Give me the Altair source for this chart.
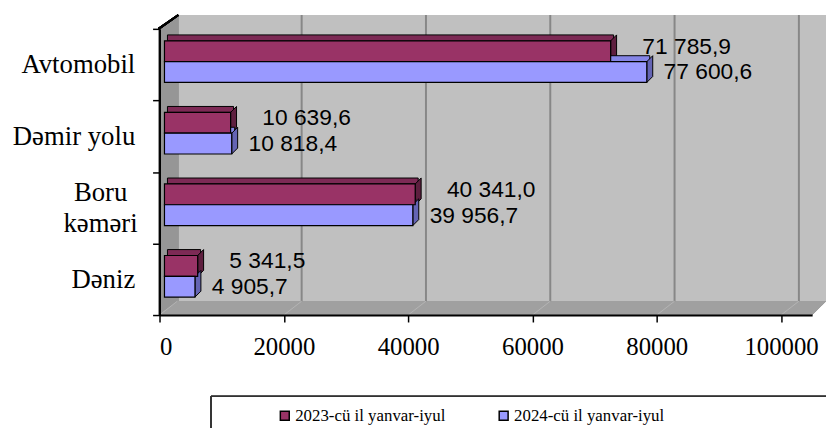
import altair as alt
import pandas as pd

# ---- data ----
categories = ["Avtomobil", "Dəmir yolu", "Boru kəməri", "Dəniz"]
series = ["2023-cü il yanvar-iyul", "2024-cü il yanvar-iyul"]
values_2023 = [71785.9, 10639.6, 40341.0, 5341.5]
values_2024 = [77600.6, 10818.4, 39956.7, 4905.7]
x_ticks = [0, 20000, 40000, 60000, 80000, 100000]

# ---- styles ----
front_colors = ["#993366", "#9999FF"]
top_colors = ["#7d2a55", "#8585E6"]
side_colors = ["#5e1f3f", "#6464B4"]
X_MAX = 105000
W, H = 659, 289
SERIF = "Liberation Serif"
SANS = "Liberation Sans"
TWO_LINE = "datum.value == 'Boru kəməri'"


def fmt(v):
    return f"{v:,.1f}".replace(",", " ").replace(".", ",")


rows = []
for s, vals in zip(series, [values_2023, values_2024]):
    for c, v in zip(categories, vals):
        rows.append({"category": c, "series": s, "value": v, "label": fmt(v)})
df = pd.DataFrame(rows)
grid_df = pd.DataFrame({"tick": x_ticks})

xscale = alt.Scale(domain=[0, X_MAX], nice=False, zero=True)
yscale = alt.Scale(domain=categories, paddingInner=0, paddingOuter=0)

x_axis = alt.Axis(
    values=x_ticks, format="d", title=None, grid=False,
    domainColor="black", domainWidth=2, tickColor="black", tickWidth=1.5,
    tickSize=7, labelFont=SERIF, labelFontSize=25, labelColor="black",
    labelPadding=13, zindex=1,
)
y_axis = alt.Axis(
    title=None, grid=False, tickBand="extent",
    domainColor="black", domainWidth=2, tickColor="black", tickWidth=1.5,
    tickSize=7, labelFont=SERIF, labelFontSize=27, labelColor="black",
    labelLineHeight=31, zindex=1,
    labelAlign={"condition": {"test": TWO_LINE, "value": "center"}, "value": "right"},
    labelPadding={"condition": {"test": TWO_LINE, "value": 53}, "value": 18},
    labelOffset={"condition": {"test": TWO_LINE, "value": -15}, "value": 0},
    labelExpr="datum.label == 'Boru kəməri' ? ['Boru', 'kəməri'] : datum.label",
)

X = alt.X("value:Q", scale=xscale, axis=x_axis)
Y = alt.Y("category:N", scale=yscale, sort=categories, axis=y_axis)
XT = alt.X("tick:Q", scale=xscale, axis=x_axis)

base = alt.Chart(df)

# ---- box walls (decoration) ----
back_wall = alt.Chart(grid_df).mark_rect(color="#C0C0C0").encode(
    x=alt.value(19), x2=alt.value(680), y=alt.value(-14), y2=alt.value(275)
)
LEFT_PATH = "M-0.066,-0.9076L0.066,-1L0.066,0.9076L-0.066,1Z"
left_wall = alt.Chart(grid_df).mark_point(
    shape=LEFT_PATH, size=303 * 303, filled=True, fill="#969696",
    strokeWidth=0, opacity=1
).encode(x=alt.value(9), y=alt.value(137.5))
FLOOR_PATH = "M-1,0.02077L0.9585,0.02077L1,-0.02077L-0.9407,-0.02077Z"
floor = alt.Chart(grid_df).mark_point(
    shape=FLOOR_PATH, size=674 * 674, filled=True, fill="#A0A0A0",
    strokeWidth=0, opacity=1
).encode(x=alt.value(336), y=alt.value(282))

gridlines = alt.Chart(grid_df).transform_filter("datum.tick > 0").mark_rule(
    color="#878787", strokeWidth=2, xOffset=18
).encode(x=XT, y=alt.value(-14), y2=alt.value(275))
floor_lines = alt.Chart(grid_df).mark_rule(
    color="#B4B4B4", strokeWidth=1, xOffset=18, x2Offset=0
).encode(x=XT, x2=alt.X2("tick:Q"), y=alt.value(275), y2=alt.value(289))
wall_edge = alt.Chart(grid_df).mark_rule(color="black", strokeWidth=2).encode(
    x=alt.value(-1), y=alt.value(0), x2=alt.value(19), y2=alt.value(-14)
)

# ---- 3D bars ----
SIDE_PATH = "M-0.222,-0.556L0.222,-1L0.222,0.556L-0.222,1Z"
front_off = [-13.5, 7.5]
text_dx = [37, 22]
text_dy = [-18, 8]
layers_depth, layers_front, layers_text = [], [], []
for i, s in enumerate(series):
    sub = base.transform_filter(alt.datum.series == s)
    top = sub.mark_bar(
        height=6, yOffset=front_off[i] - 13.5, xOffset=8, x2Offset=8,
        fill=top_colors[i], stroke="black", strokeWidth=1
    ).encode(x=X, y=Y)
    side = sub.mark_point(
        shape=SIDE_PATH, size=729, filled=True, fill=side_colors[i],
        stroke="black", strokeWidth=1, opacity=1,
        xOffset=8, yOffset=front_off[i] - 3
    ).encode(x=X, y=Y)
    front = sub.mark_bar(
        height=21, yOffset=front_off[i], xOffset=5, x2Offset=5,
        stroke="black", strokeWidth=1.2
    ).encode(
        x=X, y=Y,
        color=alt.Color(
            "series:N",
            scale=alt.Scale(domain=series, range=front_colors),
            legend=alt.Legend(
                orient="none", legendX=118, legendY=382, direction="horizontal",
                title=None, symbolType="square", symbolSize=81,
                symbolStrokeColor="black", symbolStrokeWidth=1.5,
                symbolOpacity=1, labelFont=SERIF, labelFontSize=17,
                labelColor="black", labelOffset=2, columnPadding=50, padding=0,
            ),
        ),
    )
    text = sub.mark_text(
        align="left", baseline="middle", dx=text_dx[i], dy=text_dy[i],
        font=SANS, fontSize=23, color="black"
    ).encode(x=X, y=Y, text="label:N")
    layers_depth += [top, side]
    layers_front.append(front)
    layers_text.append(text)

legend_top = alt.Chart(grid_df).mark_rule(color="#333333", strokeWidth=1).encode(
    x=alt.value(52), x2=alt.value(680), y=alt.value(371)
)
legend_left = alt.Chart(grid_df).mark_rule(color="#333333", strokeWidth=1).encode(
    x=alt.value(52), y=alt.value(371), y2=alt.value(410)
)

chart = alt.layer(
    back_wall, left_wall, floor, gridlines, floor_lines,
    *layers_depth, *layers_front, *layers_text,
    wall_edge, legend_top, legend_left,
).properties(
    width=W, height=H,
    autosize=alt.AutoSizeParams(type="none"),
    padding={"left": 153, "top": 19, "right": 14, "bottom": 112},
).configure_view(stroke=None)

chart.save("out.html", embed_options={"renderer": "svg", "actions": False})
